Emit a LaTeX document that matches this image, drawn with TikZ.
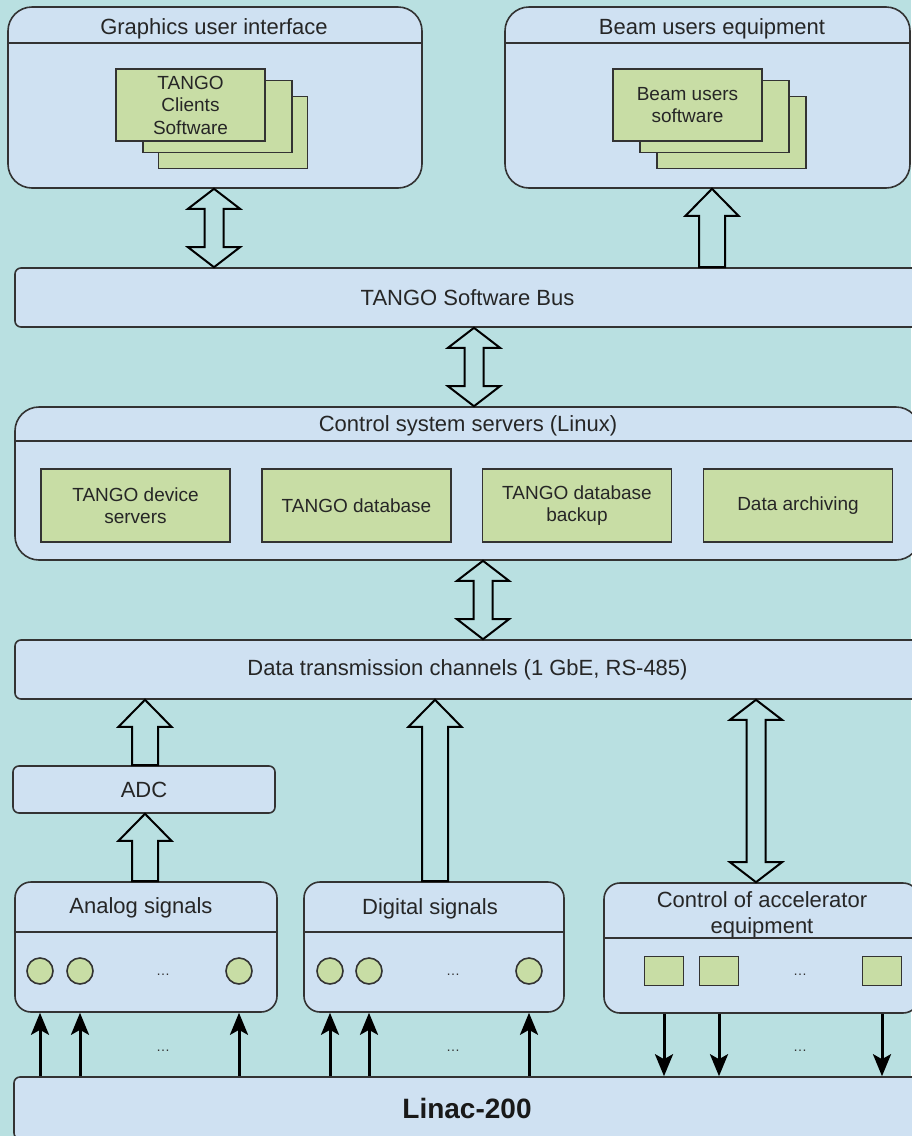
\documentclass[tikz,border=0pt]{standalone}
\usepackage{fontspec}
\setmainfont{Liberation Sans}
\usetikzlibrary{arrows.meta,calc}

\definecolor{bgteal}{HTML}{B9E0E1}
\definecolor{boxblue}{HTML}{CFE1F2}
\definecolor{boxgreen}{HTML}{C8DDA5}
\definecolor{edge}{HTML}{333333}

\begin{document}
\begin{tikzpicture}[x=0.5pt, y=-0.5pt,
    panel/.style={draw=edge, line width=0.8pt, fill=boxblue, inner sep=0pt, rounded corners=12pt},
    bar/.style={draw=edge, line width=0.8pt, fill=boxblue, inner sep=0pt, rounded corners=3pt},
    block/.style={draw=edge, line width=0.8pt, fill=boxgreen, inner sep=0pt, align=center,
      text=black!85, font=\fontsize{9.5}{11.25}\selectfont},
    sheet/.style={block, minimum width=74.5pt, minimum height=36pt},
    server/.style={block, minimum width=94.5pt, minimum height=36.5pt},
    unit/.style={block, minimum width=19.5pt, minimum height=14.5pt},
    title/.style={font=\fontsize{11}{13}\selectfont, text=black!85, align=center},
    dot/.style={circle, draw=edge, line width=0.8pt, fill=boxgreen, minimum size=13pt, inner sep=0pt},
    gap/.style={font=\fontsize{7}{8}\selectfont, text=black!80},
    fat/.style={draw=black, line width=1pt, fill=bgteal, line join=miter},
    sig/.style={line width=1.5pt, -{Stealth[length=11pt, width=9pt, inset=2.5pt]}}]

  \fill[bgteal] (0,0) rectangle (911,1136);
  \useasboundingbox (0,0) rectangle (911,1136);

  % 上段
  \node[panel, minimum width=207pt, minimum height=90.5pt] (gui) at (215,97.5) {};
  \node[title] (guit) at (214,29) {Graphics user interface};
  \draw[edge, line width=0.8pt] (gui.west |- 0,43) -- (gui.east |- 0,43);
  \node[sheet] (cl3) at (233,132.5) {};
  \node[sheet] (cl2) at (217.5,116.5) {};
  \node[sheet] (cl1) at (190.5,105) {TANGO\\Clients\\Software};

  \node[panel, minimum width=202.5pt, minimum height=90.5pt] (beam) at (707.5,97.5) {};
  \node[title] (beamt) at (712,29) {Beam users equipment};
  \draw[edge, line width=0.8pt] (beam.west |- 0,43) -- (beam.east |- 0,43);
  \node[sheet] (bu3) at (731.5,132.5) {};
  \node[sheet] (bu2) at (714.5,116.5) {};
  \node[sheet] (bu1) at (687.5,105) {Beam users\\software};

  \node[bar, title, minimum width=452.5pt, minimum height=29.5pt] (bus) at (467.5,297.5) {TANGO Software Bus};

  % サーバ
  \node[panel, minimum width=452.5pt, minimum height=76.5pt] (css) at (467.5,483.5) {};
  \node[title] (csst) at (468,426) {Control system servers (Linux)};
  \draw[edge, line width=0.8pt] (css.west |- 0,441) -- (css.east |- 0,441);
  \node[server] (dev) at (135.5,505.5) {TANGO device\\servers};
  \node[server] (db) at (356.5,505.5) {TANGO database};
  \node[server] (dbb) at (577,505.5) {TANGO database\\backup};
  \node[server] (arch) at (798,505.5) {Data archiving};

  \node[bar, title, minimum width=452.5pt, minimum height=29.5pt] (data) at (467.5,669.5) {Data transmission channels (1 GbE, RS-485)};
  \node[bar, title, minimum width=131pt, minimum height=23.5pt] (adc) at (144,789.5) {ADC};

  % 信号
  \node[panel, rounded corners=8pt, minimum width=131pt, minimum height=65pt] (ana) at (146,947) {};
  \node[title] (anat) at (141,908) {Analog signals};
  \draw[edge, line width=0.8pt] (ana.west |- 0,932) -- (ana.east |- 0,932);
  \node[dot] (a1) at (40,971) {};
  \node[dot] (a2) at (80,971) {};
  \node[dot] (a3) at (239,971) {};
  \node[gap] (ad) at (163,975) {…};

  \node[panel, rounded corners=8pt, minimum width=130pt, minimum height=65pt] (dig) at (434,947) {};
  \node[title] (digt) at (430,909) {Digital signals};
  \draw[edge, line width=0.8pt] (dig.west |- 0,932) -- (dig.east |- 0,932);
  \node[dot] (d1) at (330,971) {};
  \node[dot] (d2) at (369,971) {};
  \node[dot] (d3) at (529,971) {};
  \node[gap] (dd) at (453,975) {…};

  \node[panel, rounded corners=8pt, minimum width=157.5pt, minimum height=65pt] (ctrl) at (761.5,948) {};
  \node[title] (ctrlt) at (762,914.5) {Control of accelerator\\equipment};
  \draw[edge, line width=0.8pt] (ctrl.west |- 0,938) -- (ctrl.east |- 0,938);
  \node[unit] (q1) at (664,971) {};
  \node[unit] (q2) at (719,971) {};
  \node[unit] (q3) at (882,971) {};
  \node[gap] (qd) at (800,975) {…};

  \node[bar, minimum width=453pt, minimum height=31pt, font=\bfseries\fontsize{14}{16}\selectfont, text=black!90] (linac) at (467,1108) {Linac-200};

  % 太い矢印（両方向）
  \foreach \up/\lo/\xx in {gui/bus/214, bus/css/474, css/data/483, data/ctrl/756} {
    \coordinate (fx) at (\xx,0);
    \coordinate (ft) at (\up.south -| fx);
    \coordinate (fb) at (\lo.north -| fx);
    \draw[fat] (ft) -- ++(26,20) -- ++(-16.5,0) -- ($(fb)+(9.5,-20)$) -- ++(16.5,0) -- (fb)
      -- ++(-26,-20) -- ++(16.5,0) -- ($(ft)+(-9.5,20)$) -- ++(-16.5,0) -- cycle;
  }
  % 太い矢印（上向き）
  \foreach \up/\lo/\xx in {beam/bus/712, data/adc/145, adc/ana/145, data/dig/435} {
    \coordinate (fx) at (\xx,0);
    \coordinate (ft) at (\up.south -| fx);
    \coordinate (fb) at (\lo.north -| fx);
    \draw[fat] (ft) -- ++(26.5,27) -- ++(-13.5,0) -- ($(fb)+(13,0)$) -- ++(-26,0)
      -- ($(ft)+(-13,27)$) -- ++(-13.5,0) -- cycle;
  }

  % 信号線
  \foreach \n in {a1,a2,a3} \draw[sig] (linac.north -| \n) -- (ana.south -| \n);
  \foreach \n in {d1,d2,d3} \draw[sig] (linac.north -| \n) -- (dig.south -| \n);
  \foreach \n in {q1,q2,q3} \draw[sig] (ctrl.south -| \n) -- (linac.north -| \n);
  \node[gap] (ag) at (163,1051) {…};
  \node[gap] (dg) at (453,1051) {…};
  \node[gap] (qg) at (800,1051) {…};

\end{tikzpicture}
\end{document}
